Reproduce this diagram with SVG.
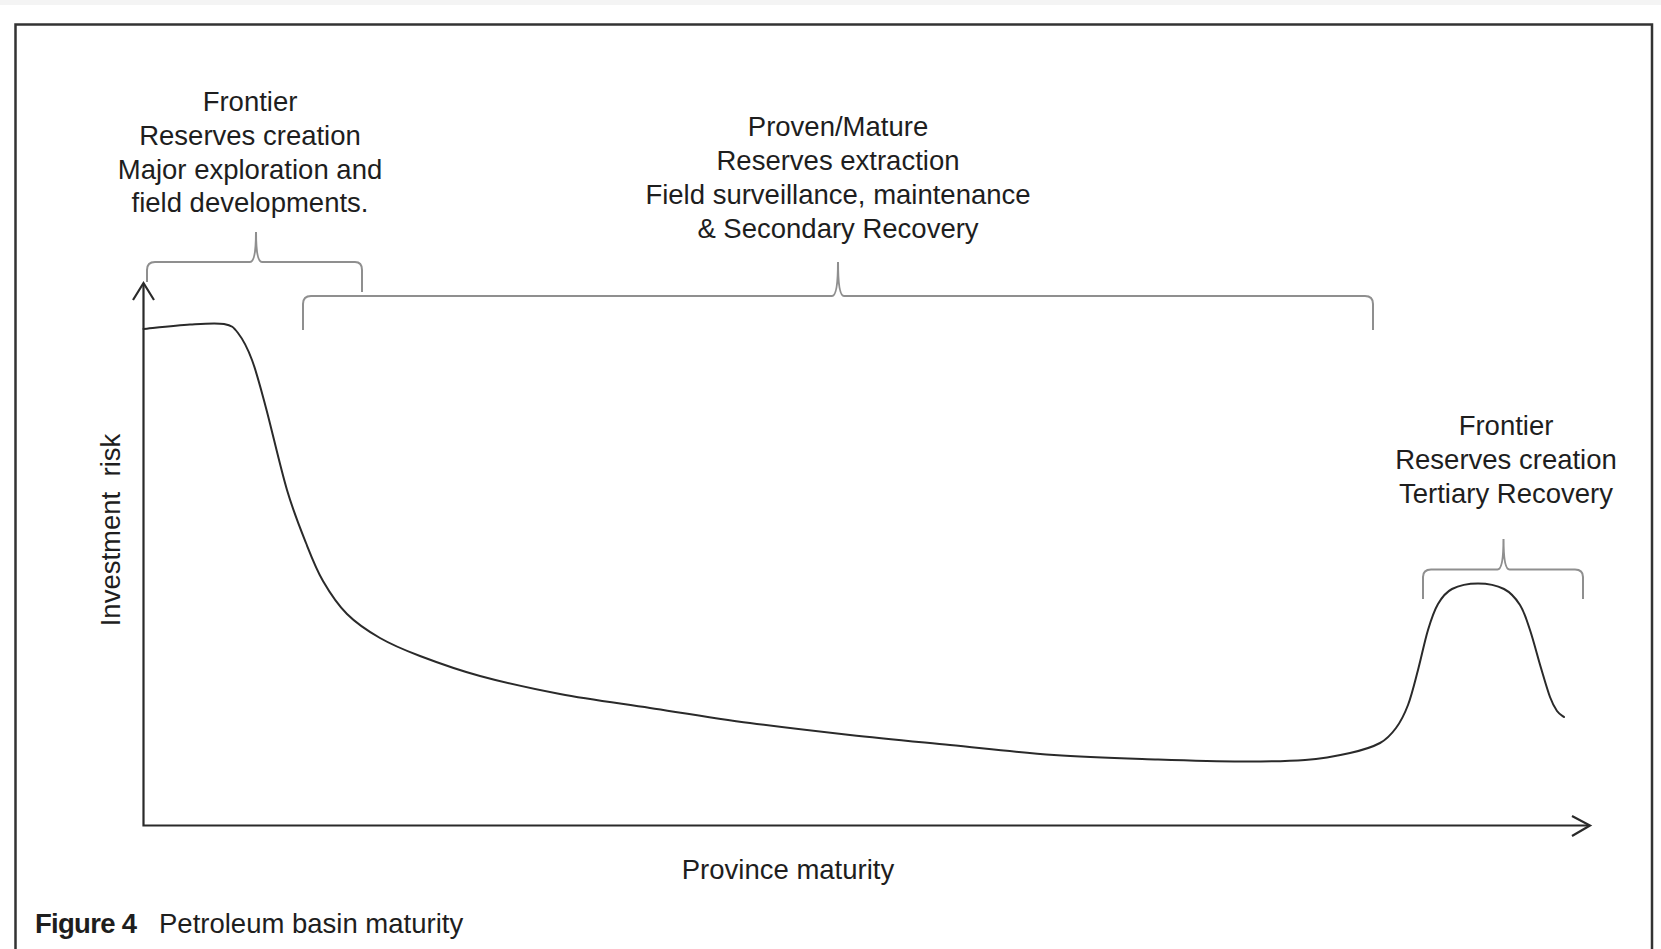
<svg xmlns="http://www.w3.org/2000/svg" width="1661" height="949" viewBox="0 0 1661 949">
<style>
  text { font-family: "Liberation Sans", Arial, sans-serif; font-size: 27.5px; fill: #1e1e1e; }
  .mid { text-anchor: middle; }
  .brace { fill: none; stroke: #8f8f8f; stroke-width: 2; }
  .axis { fill: none; stroke: #2a2a2a; stroke-width: 2.2; }
  .curve { fill: none; stroke: #2a2a2a; stroke-width: 2; stroke-linecap: round; }
  .frame { fill: #ffffff; stroke: #333333; stroke-width: 2.5; }
</style>
<rect x="0" y="0" width="1661" height="949" fill="#ffffff"/>
<rect x="0" y="0" width="1661" height="5" fill="#f4f4f4"/>
<rect class="frame" x="15.5" y="24.5" width="1636.5" height="940"/>

<g id="connectors">
  <path class="axis" d="M143.5,284 L143.5,825.5 L1589,825.5"/>
  <path class="axis" d="M133,300 L143.5,283 L154,300"/>
  <path class="axis" d="M1572,816 L1590,825.5 L1572,836"/>
  <path id="risk-curve" class="curve" d="M143.5,329
    C151.25,328.25 176.58,325.33 190,324.5
    C203.42,323.67 216,322.58 224,324
    C232,325.42 233.33,327 238,333
    C242.67,339 247.33,347.5 252,360
    C256.67,372.5 260.17,386.33 266,408
    C271.83,429.67 280.33,467.5 287,490
    C293.67,512.5 300,527.83 306,543
    C312,558.17 316.17,569.17 323,581
    C329.83,592.83 337.5,604.5 347,614
    C356.5,623.5 367.83,631 380,638
    C392.17,645 403.33,649.67 420,656
    C436.67,662.33 456.67,669.67 480,676
    C503.33,682.33 531.67,688.67 560,694
    C588.33,699.33 618.33,703.17 650,708
    C681.67,712.83 716.67,718.5 750,723
    C783.33,727.5 816.67,731.33 850,735
    C883.33,738.67 916,741.67 950,745
    C984,748.33 1019.33,752.58 1054,755
    C1088.67,757.42 1126.67,758.42 1158,759.5
    C1189.33,760.58 1217.5,761.42 1242,761.5
    C1266.5,761.58 1287,761.42 1305,760
    C1323,758.58 1337.5,755.83 1350,753
    C1362.5,750.17 1372.33,747.17 1380,743
    C1387.67,738.83 1391.33,734.33 1396,728
    C1400.67,721.67 1404.33,714.67 1408,705
    C1411.67,695.33 1414.67,682.5 1418,670
    C1421.33,657.5 1424.67,641 1428,630
    C1431.33,619 1434,610.83 1438,604
    C1442,597.17 1445.33,592.42 1452,589
    C1458.67,585.58 1469.33,583.5 1478,583.5
    C1486.67,583.5 1497,585.42 1504,589
    C1511,592.58 1515.67,598.17 1520,605
    C1524.33,611.83 1526.5,619.5 1530,630
    C1533.5,640.5 1537.67,656.83 1541,668
    C1544.33,679.17 1547.33,689.83 1550,697
    C1552.67,704.17 1554.67,707.67 1557,711
    C1559.33,714.33 1562.83,716 1564,717"/>
</g>

<g id="frontier-left">
  <path class="brace" d="M147,282 L147,270 Q147,262 155,262 L250,262 Q256,262 256,232 Q256,262 262,262 L355,262 Q362,262 362,270 L362,292"/>
  <text class="mid" x="250" y="111">Frontier</text>
  <text class="mid" x="250" y="145">Reserves creation</text>
  <text class="mid" x="250" y="178.5">Major exploration and</text>
  <text class="mid" x="250" y="212">field developments.</text>
</g>

<g id="proven-mature">
  <path class="brace" d="M303,330 L303,304 Q303,296 311,296 L832,296 Q838,296 838,262 Q838,296 844,296 L1365,296 Q1373,296 1373,304 L1373,330"/>
  <text class="mid" x="838" y="136">Proven/Mature</text>
  <text class="mid" x="838" y="170">Reserves extraction</text>
  <text class="mid" x="838" y="204">Field surveillance, maintenance</text>
  <text class="mid" x="838" y="238">&amp; Secondary Recovery</text>
</g>

<g id="frontier-right">
  <path class="brace" d="M1423,599 L1423,577 Q1423,569.5 1431,569.5 L1497.5,569.5 Q1503.5,569.5 1503.5,539 Q1503.5,569.5 1509.5,569.5 L1575,569.5 Q1583,569.5 1583,577 L1583,599"/>
  <text class="mid" x="1506" y="435">Frontier</text>
  <text class="mid" x="1506" y="469">Reserves creation</text>
  <text class="mid" x="1506" y="503">Tertiary Recovery</text>
</g>

<g id="y-axis-label">
  <text class="mid" transform="translate(120,530) rotate(-90)" xml:space="preserve">Investment  risk</text>
</g>

<g id="x-axis-label">
  <text class="mid" x="788" y="879">Province maturity</text>
</g>

<g id="caption">
  <text x="35" y="933" font-weight="bold" textLength="102">Figure 4</text>
  <text x="159" y="933">Petroleum basin maturity</text>
</g>
</svg>
